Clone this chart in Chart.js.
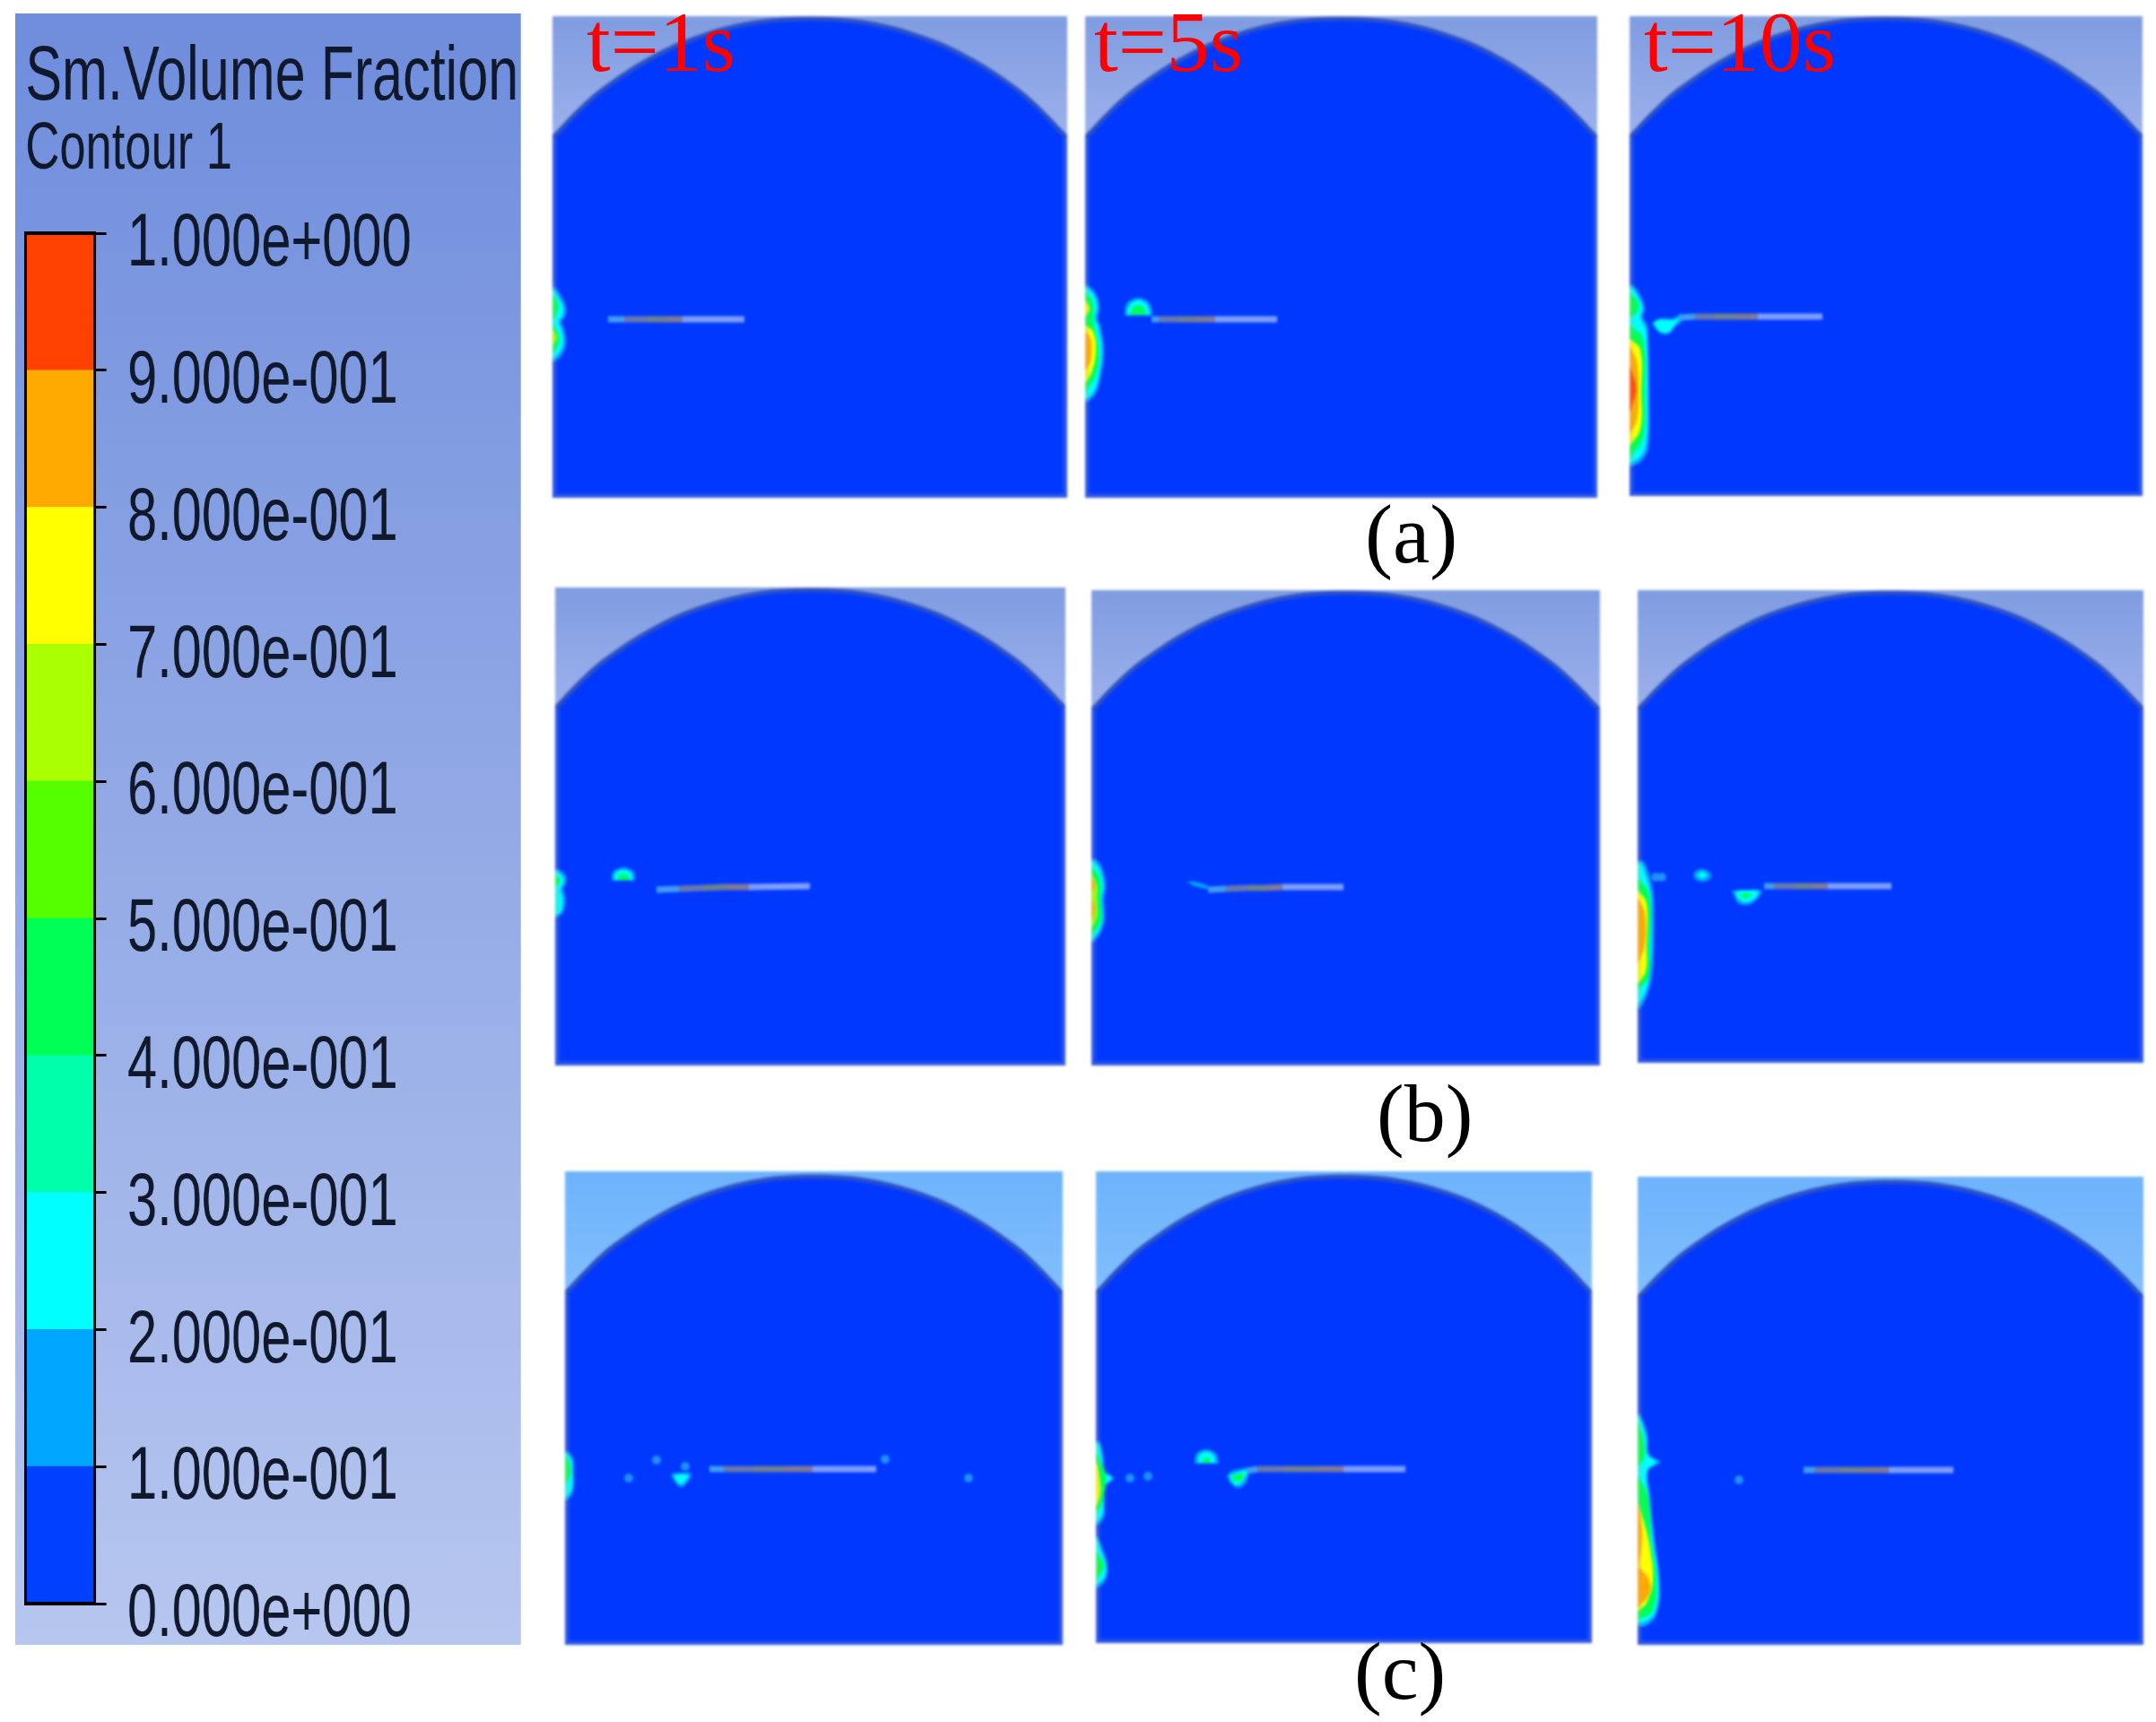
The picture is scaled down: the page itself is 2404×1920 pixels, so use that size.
<!DOCTYPE html>
<html>
<head>
<meta charset="utf-8">
<title>Sm.Volume Fraction</title>
<script src="https://cdn.jsdelivr.net/npm/chart.js@4"></script>
<style>
  html, body { margin: 0; background: #fff; width: 2404px; height: 1920px; overflow: hidden; }
  canvas { position: absolute; }
  .panel { filter: blur(1.8px); }
  #legendBar { left: 17px; top: 15px; transform-origin: 0 0; transform: scaleX(0.71); filter: blur(0.6px);
    background: linear-gradient(#6f8ddc, #b6c6ef); }
  .lbl { position: absolute; font-family: "Liberation Serif"; line-height: 1; white-space: nowrap; }
</style>
</head>
<body>
<canvas id="legendBar" width="794" height="1819"></canvas>
<script>
// colour legend
const tickLabels = ['0.000e+000','1.000e-001','2.000e-001','3.000e-001','4.000e-001','5.000e-001','6.000e-001','7.000e-001','8.000e-001','9.000e-001','1.000e+000'];
const bandValues = [0.1,0.1,0.1,0.1,0.1,0.1,0.1,0.1,0.1,0.1];
const bandColors = ['#0040ff','#00a6ff','#00ffff','#00ffaa','#00ff55','#55ff00','#aaff00','#ffff00','#ffaa00','#ff4000'];

// dome outline, % of panel width and height
const domeX = [0,5,10,20,30,40,50,60,70,80,90,95,100];
const domeY = [25,19.4,14.7,7.9,3.4,0.9,0.2,0.9,3.4,7.9,14.7,19.4,25];

// wall films: [band, y values, film thickness]
const wallA1 = [[1,[302,315,325,335,340,350,362,375,385],[3,11,15,14,10,13,15,12,3]],[2,[306,316,325,334,340,350,362,373,381],[2,8,12,11,7,10,12,9,2]],[4,[312,320,328,338],[1,6,6,1]],[4,[345,355,365,375],[1,7,7,1]],[6,[350,358,366],[1,5,1]]];
const wallA2 = [[1,[300,310,325,337,345,372,400,420,430],[3,12,16,14,17,21,18,12,3]],[2,[303,312,325,337,346,372,400,418,426],[2,10,13,11,14,18,15,10,2]],[4,[308,320,335,345,372,400,418],[1,9,9,10,15,12,1]],[7,[318,326,334],[1,5,1]],[7,[345,352,372,395,408],[1,9,12,8,1]],[8,[352,360,372,385,394],[1,6,7,6,1]]];
const wallA3 = [[1,[300,312,325,336,345,360,420,480,495,502],[4,12,17,15,20,21,22,21,14,3]],[2,[303,314,325,336,347,360,420,478,492,498],[3,10,14,12,17,19,20,18,11,2]],[4,[310,318,330,335],[1,9,9,1]],[4,[345,360,420,470,492],[1,15,17,15,1]],[7,[360,372,420,460,478],[1,12,13,12,1]],[8,[370,385,420,450,465],[1,8,10,8,1]],[9,[392,415,440],[1,7,1]]];
const wallB1 = [[1,[314,322,330,336,345,355,363,368],[4,12,12,9,11,11,8,2]],[2,[317,324,330,336,345,355,362,365],[3,9,9,6,8,8,6,1]],[4,[322,327,333],[1,6,1]]];
const wallB2 = [[1,[300,310,329,345,365,380,392],[5,12,16,14,15,11,3]],[2,[303,312,329,345,365,378,388],[3,9,13,11,12,9,2]],[4,[310,320,345,370,384],[1,9,10,10,1]],[6,[318,329,345,365,375],[1,6,6,6,1]],[8,[322,329,336],[1,4,1]],[8,[346,355,365],[1,4,1]]];
const wallB3 = [[1,[302,315,330,345,400,430,450,466],[6,12,16,18,18,16,11,3]],[2,[305,318,332,345,400,428,447,460],[4,9,13,15,15,13,9,2]],[4,[322,340,400,432,445],[1,13,13,12,1]],[7,[335,350,400,425,438],[1,10,10,9,1]],[8,[345,360,395,415],[1,8,8,1]]];
const wallC1 = [[1,[312,320,335,350,360,367],[3,9,10,10,8,2]],[2,[315,322,335,350,358,363],[2,7,8,8,6,1]],[4,[318,325,338,348],[1,5,6,1]]];
const wallC2 = [[1,[301,315,335,342,352,370,385,394],[4,8,11,20,10,10,9,3]],[2,[304,317,335,342,352,370,383,390],[3,6,9,17,8,8,7,2]],[4,[315,325,342,370,380],[1,6,11,7,1]],[7,[325,340,360,372],[1,4,5,1]],[1,[407,425,440,455,464],[2,9,13,11,3]],[2,[410,427,440,453,460],[1,7,11,9,2]],[4,[425,440,455],[1,9,1]]];
const wallC3 = [[1,[265,288,310,318,328,355,405,455,488,501],[3,11,13,25,12,14,19,25,21,9]],[2,[268,290,310,318,328,355,405,455,486,497],[2,9,11,20,10,12,17,23,19,7]],[4,[275,295,315,322],[1,7,7,1]],[4,[335,355,405,455,485,494],[1,11,15,21,16,1]],[7,[365,385,410,450,475,484],[1,7,13,17,10,1]],[8,[365,400,435],[1,5,1]],[8,[435,450,465,480],[1,13,13,1]]];

// droplets: [band, x values, y values]
const dropsA1 = [];
const dropsA2 = [[1,[44,45,50,59,68,73,75],[334,323,317,314,317,323,334]],[2,[47,48,53,59,66,70,72],[333,325,319,317,319,325,333]],[4,[50,52,59,66,68],[333,326,322,326,333]]];
const dropsA3 = [[1,[25,33,44,50,58,60,50,44,35,28],[342,337,337,336,332,338,347,354,354,348]],[2,[27,33,44,50,56,56,50,44,35,30],[342,339,339,339,336,337,345,352,352,347]]];
const dropsB1 = [[1,[63,64,69,76,83,88,89],[327,318,314,312,314,318,327]],[2,[66,67,71,76,81,85,86],[326,319,316,315,316,319,326]],[4,[69,71,76,81,83],[326,321,319,321,326]]];
const dropsB2 = [[1,[106,115,130,130,115],[325,325,330,333,330]]];
const dropsB3 = [[1,[62,65,72,78,82,79,72,65],[318,313,311,313,318,323,325,323]],[2,[66,72,77,72],[318,314,318,322]],[1,[105,120,138,135,128,120,112,108],[335,334,335,342,349,351,349,342]],[2,[109,120,134,131,120,111],[336,335,336,343,348,343]],[4,[113,120,127,124,120,116],[339,338,339,342,344,342]]];
const dropsC1 = [[1,[118,129,140,137,129,122],[337,336,337,346,352,346]],[2,[121,129,137,134,129,124],[339,338,339,345,349,345]]];
const dropsC2 = [[1,[110,112,123,134,137],[326,315,310,315,326]],[2,[114,115,123,131,133],[325,317,313,317,325]],[4,[117,123,129],[325,319,325]],[1,[146,150,160,172,170,165,157,150],[340,335,332,331,340,350,353,348]],[2,[149,158,168,166,157,151],[339,336,334,342,350,345]],[4,[151,158,165,163,157,153],[340,338,337,343,346,344]]];
const dropsC3 = [];

// small specks, [x, y]
const specksA1 = [], specksA2 = [], specksA3 = [], specksB1 = [], specksB2 = [];
const specksB3 = [[20,320],[27,320]];
const specksC1 = [[102,322],[71,342],[357,321],[450,342],[134,329]];
const specksC2 = [[38,342],[58,340]];
const specksC3 = [[113,338]];

// plate: x and y of its section ends
const plateColors = ['#3f9df2','#6878ac','#6f8090','#7f7a95','#7e9dff'];
const plateXA1 = [62,80,105,125,145,214], plateYA1 = [338,338,338,338,338,338];
const plateXA2 = [74,82,105,125,145,214], plateYA2 = [338,338,338,338,338,338];
const plateXA3 = [56,73,95,120,143,215], plateYA3 = [336,335,335,335,335,335];
const plateXB1 = [113,138,165,190,216,284], plateYB1 = [337,336,335,334,334,333];
const plateXB2 = [130,150,175,195,213,281], plateYB2 = [334,333,332,332,331,331];
const plateXB3 = [141,152,175,195,212,283], plateYB3 = [330,330,330,330,330,330];
const plateXC1 = [161,177,210,245,276,347], plateYC1 = [332,332,332,332,332,332];
const plateXC2 = [168,180,210,245,276,345], plateYC2 = [334,332,332,332,332,332];
const plateXC3 = [185,197,225,255,280,352], plateYC3 = [327,327,327,327,327,327];

const panels = [
  { box: [616,18,574,537], sky: 'a', drop: 2, wall: wallA1, drops: dropsA1, specks: specksA1, px: plateXA1, py: plateYA1 },
  { box: [1210,18,571,537], sky: 'a', drop: 2, wall: wallA2, drops: dropsA2, specks: specksA2, px: plateXA2, py: plateYA2 },
  { box: [1817,18,572,535], sky: 'a', drop: 2, wall: wallA3, drops: dropsA3, specks: specksA3, px: plateXA3, py: plateYA3 },
  { box: [619,655,569,533], sky: 'a', drop: 2, wall: wallB1, drops: dropsB1, specks: specksB1, px: plateXB1, py: plateYB1 },
  { box: [1217,658,567,530], sky: 'a', drop: 2, wall: wallB2, drops: dropsB2, specks: specksB2, px: plateXB2, py: plateYB2 },
  { box: [1826,658,564,527], sky: 'a', drop: 2, wall: wallB3, drops: dropsB3, specks: specksB3, px: plateXB3, py: plateYB3 },
  { box: [630,1306,555,528], sky: 'c', drop: 5, wall: wallC1, drops: dropsC1, specks: specksC1, px: plateXC1, py: plateYC1 },
  { box: [1222,1306,553,526], sky: 'c', drop: 5, wall: wallC2, drops: dropsC2, specks: specksC2, px: plateXC2, py: plateYC2 },
  { box: [1826,1312,564,522], sky: 'c', drop: 5, wall: wallC3, drops: dropsC3, specks: specksC3, px: plateXC3, py: plateYC3 }
];

// text over the panels: text, x, baseline, size, colour
const labels = [
  ['t=1s',654,79,96,'#ff0000'], ['t=5s',1220,79,96,'#ff0000'], ['t=10s',1833,79,96,'#ff0000'],
  ['(a)',1522,627,93,'#000'], ['(b)',1535,1272,92,'#000'], ['(c)',1510,1894,92,'#000']
];

function shape(pts, color) {
  return { data: pts, showLine: true, fill: 'shape', borderWidth: 0, backgroundColor: color, borderColor: color, pointRadius: 0, tension: 0.4 };
}

function buildPanel(p) {
  const [left, top, w, h] = p.box;
  const cv = document.createElement('canvas');
  cv.className = 'panel';
  cv.width = w; cv.height = h;
  cv.style.left = left + 'px';
  cv.style.top = top + 'px';
  // sky only behind the corners, plain fluid colour below them
  cv.style.background = p.sky === 'a'
    ? 'linear-gradient(#7f9ce0, #9db2ec 26.5%, #0038ff 26.5%)'
    : 'linear-gradient(#6db2fb, #82bffc 26.5%, #0038ff 26.5%)';
  document.body.appendChild(cv);

  const dome = domeX.map((v, i) => ({ x: v / 100 * w, y: domeY[i] / 100 * h + p.drop }));
  const sets = [{ data: dome, showLine: true, fill: 'start', backgroundColor: '#0038ff', borderColor: '#2a50c8', borderWidth: 5, pointRadius: 0, tension: 0.4 }];

  p.wall.forEach(([band, ys, ws]) => {
    const pts = ys.map((y, i) => ({ x: ws[i], y: y }));
    pts.unshift({ x: 0, y: ys[0] });
    pts.push({ x: 0, y: ys[ys.length - 1] });
    sets.push(shape(pts, bandColors[band]));
  });
  p.drops.forEach(([band, xs, ys]) => {
    sets.push(shape(xs.map((x, i) => ({ x: x, y: ys[i] })), bandColors[band]));
  });
  plateColors.forEach((c, i) => {
    sets.push({ data: [{ x: p.px[i], y: p.py[i] }, { x: p.px[i + 1], y: p.py[i + 1] }], showLine: true, borderColor: c, borderWidth: 7, pointRadius: 0, fill: false });
  });
  if (p.specks.length) {
    sets.push({ data: p.specks.map(s => ({ x: s[0], y: s[1] })), showLine: false, pointRadius: 5, pointBackgroundColor: '#1e90ff', pointBorderWidth: 0 });
  }
  // side and bottom rim
  sets.push({ data: [{ x: 0, y: dome[0].y }, { x: 0, y: h }, { x: w, y: h }, { x: w, y: dome[0].y }], showLine: true, borderColor: 'rgba(180,170,150,0.25)', borderWidth: 9, pointRadius: 0, fill: false });

  new Chart(cv, {
    type: 'scatter',
    data: { datasets: sets.reverse() },
    options: {
      responsive: false, animation: false,
      layout: { padding: 0, autoPadding: false },
      plugins: { legend: { display: false }, tooltip: { enabled: false } },
      scales: {
        x: { type: 'linear', min: 0, max: w, display: false },
        y: { type: 'linear', min: 0, max: h, reverse: true, display: false }
      }
    }
  });
}

panels.forEach(buildPanel);

const barOutline = {
  id: 'barOutline',
  afterDatasetsDraw(chart) {
    const a = chart.chartArea, ctx = chart.ctx;
    ctx.save();
    ctx.strokeStyle = '#000';
    ctx.lineWidth = 4;
    ctx.strokeRect(a.left, a.top, a.right - a.left, a.bottom - a.top);
    ctx.restore();
  }
};

new Chart(document.getElementById('legendBar'), {
  type: 'bar',
  data: {
    labels: [''],
    datasets: bandValues.map((v, i) => ({ data: [v], backgroundColor: bandColors[i], barPercentage: 1, categoryPercentage: 1, borderWidth: 0 }))
  },
  plugins: [barOutline],
  options: {
    responsive: false, animation: false,
    layout: { padding: { left: 16, top: 0, bottom: 46 } },
    plugins: {
      legend: { display: false }, tooltip: { enabled: false },
      title: { display: true, text: 'Sm.Volume Fraction', align: 'start', color: '#10182c', font: { family: 'Liberation Sans', size: 86, weight: 'normal', lineHeight: 1 }, padding: { top: 29, bottom: 1 } },
      subtitle: { display: true, text: 'Contour 1', align: 'start', color: '#10182c', font: { family: 'Liberation Sans', size: 74, weight: 'normal', lineHeight: 1 }, padding: { top: 0, bottom: 55 } }
    },
    scales: {
      x: { stacked: true, display: false },
      y: {
        stacked: true, position: 'right', min: 0, max: 1,
        afterFit(s) { s.width = 669; s.paddingTop = 0; s.paddingBottom = 0; },
        grid: { drawOnChartArea: false, color: '#000', lineWidth: 3, tickLength: 18 },
        border: { display: true, color: '#000', width: 4 },
        ticks: {
          stepSize: 0.1, autoSkip: false, color: '#10182c', padding: 33, labelOffset: 13,
          font: { family: 'Liberation Sans', size: 84 },
          callback: v => tickLabels[Math.round(v * 10)]
        }
      }
    }
  }
});

labels.forEach(([text, x, base, size, color]) => {
  const d = document.createElement('div');
  d.className = 'lbl';
  d.textContent = text;
  d.style.left = x + 'px';
  d.style.top = (base - size * 0.8375) + 'px';
  d.style.fontSize = size + 'px';
  d.style.color = color;
  document.body.appendChild(d);
});
</script>
</body>
</html>
